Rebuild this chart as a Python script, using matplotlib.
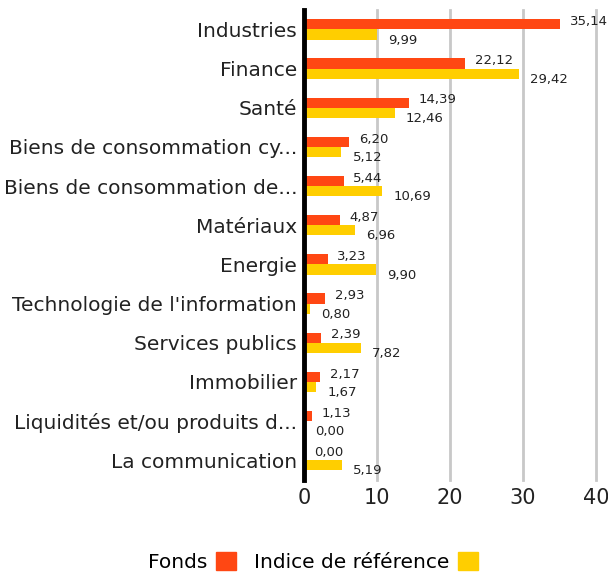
import matplotlib
matplotlib.use("Agg")
import matplotlib.pyplot as plt
import numpy as np
from matplotlib.patches import Patch

categories = ["Industries", "Finance", "Santé", "Biens de consommation cy...",
              "Biens de consommation de...", "Matériaux", "Energie",
              "Technologie de l'information", "Services publics", "Immobilier",
              "Liquidités et/ou produits d...", "La communication"]
fonds = [35.14, 22.12, 14.39, 6.20, 5.44, 4.87, 3.23, 2.93, 2.39, 2.17, 1.13, 0.00]
indice = [9.99, 29.42, 12.46, 5.12, 10.69, 6.96, 9.90, 0.80, 7.82, 1.67, 0.00, 5.19]
xticks = [0, 10, 20, 30, 40]

c_fonds = "#FF4713"
c_ind = "#FFCE00"
plt.rcParams['font.family'] = ['DejaVu Sans']

fig = plt.figure(figsize=(6.08, 5.76), dpi=100)
ax = fig.add_axes([0.5, 0.167, 0.48, 0.816])

y = np.arange(len(categories))
h = 0.26
ax.barh(y - h/2, fonds, height=h, color=c_fonds, zorder=3)
ax.barh(y + h/2, indice, height=h, color=c_ind, zorder=3)

def fmt(v):
    return f"{v:.2f}".replace(".", ",")

for i in range(len(categories)):
    ax.annotate(fmt(fonds[i]), (fonds[i], y[i] - h/2), xytext=(7, 2),
                textcoords="offset points", va="center", ha="left", fontsize=9.5, color="#222222")
    ax.annotate(fmt(indice[i]), (indice[i], y[i] + h/2), xytext=(8, -4),
                textcoords="offset points", va="center", ha="left", fontsize=9.5, color="#222222")

ax.set_ylim(len(categories) - 0.5, -0.5)
ax.set_xlim(0, 40)
ax.set_yticks(y)
ax.set_yticklabels(categories, fontsize=14.5, color="#222222")
ax.set_xticks(xticks)
ax.set_xticklabels([str(t) for t in xticks], fontsize=15, color="#222222")
ax.tick_params(axis="both", length=0)
ax.tick_params(axis="y", pad=5)
ax.tick_params(axis="x", pad=6)
for s in ["top", "right", "bottom"]:
    ax.spines[s].set_visible(False)
ax.spines["left"].set_linewidth(3.5)
ax.spines["left"].set_color("black")
ax.spines["left"].set_zorder(5)
ax.grid(axis="x", color="#c8c8c8", linewidth=2, zorder=0)
ax.set_axisbelow(True)
for gl in ax.get_xgridlines():
    gl.set_clip_on(False)

handles = [Patch(color=c_fonds), Patch(color=c_ind)]
fig.legend(handles, ["Fonds", "Indice de référence"], loc="center",
           bbox_to_anchor=(0.515, 0.024), ncol=2, frameon=False, markerfirst=False,
           fontsize=14.5, handlelength=1.0, handleheight=1.0, columnspacing=0.9, handletextpad=0.4)

fig.savefig("out.png", dpi=100)
